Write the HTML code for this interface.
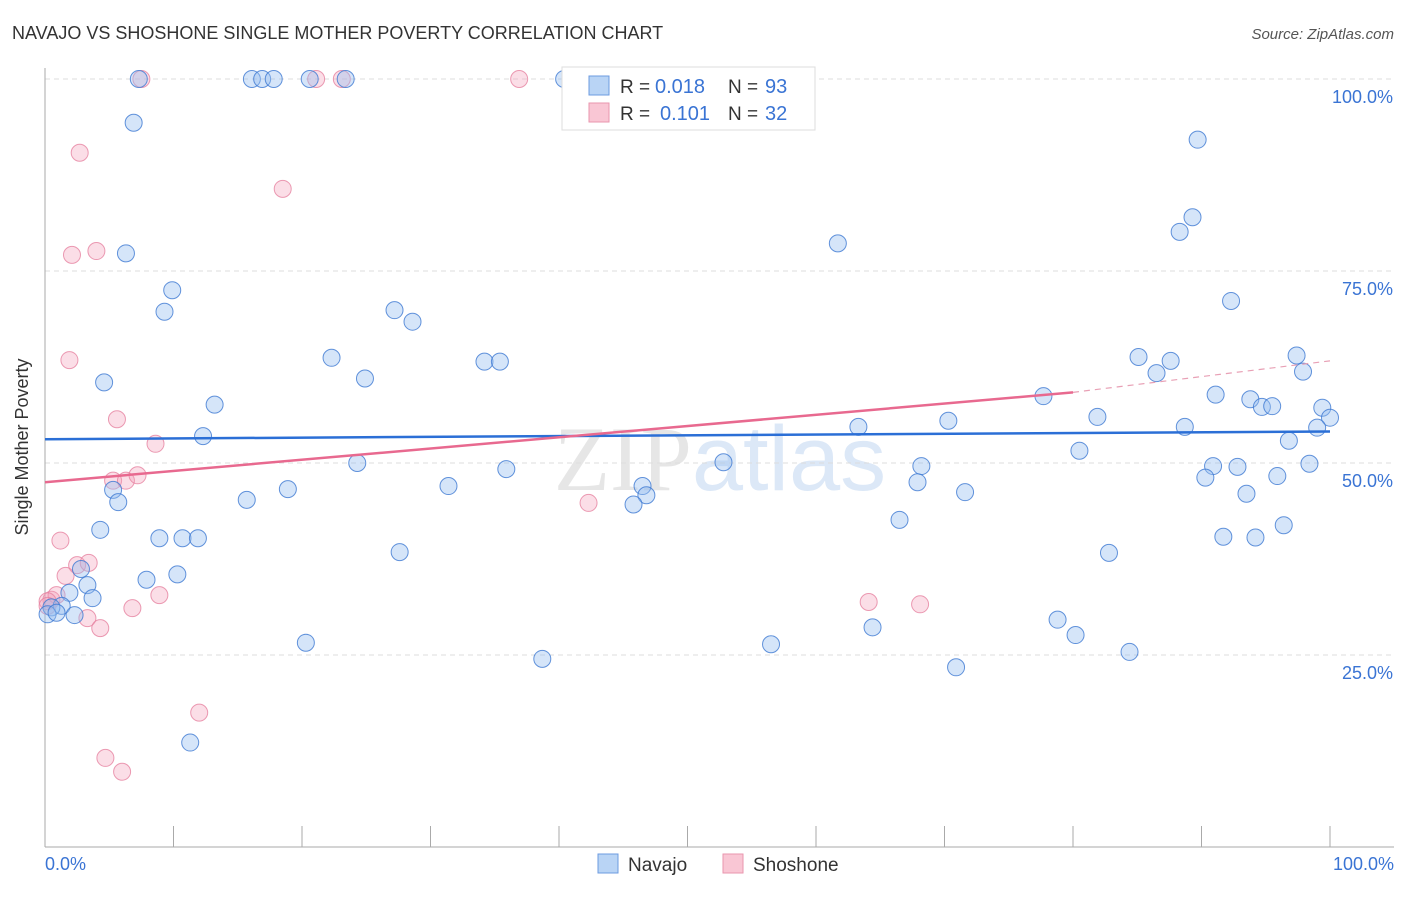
<!DOCTYPE html>
<html><head><meta charset="utf-8"><style>
body{margin:0;background:#fff;font-family:"Liberation Sans",sans-serif}
</style></head><body>
<svg width="1406" height="892">
<text x="12" y="39" font-size="18" fill="#333">NAVAJO VS SHOSHONE SINGLE MOTHER POVERTY CORRELATION CHART</text>
<text x="1394" y="39" font-size="15" fill="#555" text-anchor="end" font-style="italic">Source: ZipAtlas.com</text>
<text x="720" y="490" font-size="92" fill="#e6e6e6" text-anchor="middle" font-family="Liberation Serif">ZIP<tspan fill="#dce8f7" font-family="Liberation Sans">atlas</tspan></text>
<g id="grid"></g>
<line x1="45" y1="68" x2="45" y2="847" stroke="#aaa"/>
<line x1="45" y1="847" x2="1394" y2="847" stroke="#aaa"/>
<text x="36" y="455" font-size="18" fill="#333" text-anchor="middle" transform="rotate(-90 28 455)">Single Mother Poverty</text>
<text x="45" y="870" font-size="18" fill="#3a74d4">0.0%</text>
<text x="1394" y="870" font-size="18" fill="#3a74d4" text-anchor="end">100.0%</text>
<g id="pts"></g>
<g id="trend"></g>
<g>
<rect x="562" y="67" width="253" height="63" fill="#fff" stroke="#ddd"/>
<rect x="589" y="76" width="20" height="19" fill="#b9d4f5" stroke="#6c9be0"/>
<rect x="589" y="103" width="20" height="19" fill="#f9c6d4" stroke="#e996ae"/>
<text x="620" y="93" font-size="19" fill="#333">R =</text>
<text x="655" y="93" font-size="20" fill="#3a74d4">0.018</text>
<text x="728" y="93" font-size="19" fill="#333">N =</text>
<text x="765" y="93" font-size="20" fill="#3a74d4">93</text>
<text x="620" y="120" font-size="19" fill="#333">R =</text>
<text x="660" y="120" font-size="20" fill="#3a74d4">0.101</text>
<text x="728" y="120" font-size="19" fill="#333">N =</text>
<text x="765" y="120" font-size="20" fill="#3a74d4">32</text>
</g>
<g>
<rect x="598" y="854" width="20" height="19" fill="#b9d4f5" stroke="#6c9be0"/>
<text x="628" y="871" font-size="19" fill="#333">Navajo</text>
<rect x="723" y="854" width="20" height="19" fill="#f9c6d4" stroke="#e996ae"/>
<text x="753" y="871" font-size="19" fill="#333">Shoshone</text>
</g>
</svg>
<script>
const yTicks=[25,50,75,100];
const xTicks=[0,10,20,30,40,50,60,70,80,90,100];
const navX=[7.3,16.1,16.9,17.8,20.6,23.4,40.4,6.9,89.7,89.3,88.3,6.3,61.7,9.9,9.3,92.3,27.2,28.6,22.3,34.2,35.4,24.9,4.6,85.1,87.6,86.5,97.4,97.9,77.7,91.1,93.8,94.7,95.5,99.4,100,81.9,70.3,13.2,63.3,88.7,99,96.8,12.3,80.5,24.3,52.8,35.9,68.2,90.9,92.8,98.4,90.3,95.9,67.9,31.4,46.5,5.3,18.9,15.7,5.7,46.8,45.8,71.6,93.5,66.5,4.3,8.9,10.7,11.9,91.7,94.2,96.4,27.6,82.8,10.3,7.9,2.8,3.3,1.9,3.7,1.3,0.5,0.2,0.9,2.3,78.8,80.2,64.4,20.3,56.5,38.7,84.4,70.9,11.3];
const navY=[100,100,100,100,100,100,100,94.3,92.1,82,80.1,77.3,78.6,72.5,69.7,71.1,69.9,68.4,63.7,63.2,63.2,61,60.5,63.8,63.3,61.7,64,61.9,58.7,58.9,58.3,57.3,57.4,57.2,55.9,56,55.5,57.6,54.7,54.7,54.6,52.9,53.5,51.6,50,50.1,49.2,49.6,49.6,49.5,49.9,48.1,48.3,47.5,47,47,46.5,46.6,45.2,44.9,45.8,44.6,46.2,46,42.6,41.3,40.2,40.2,40.2,40.4,40.3,41.9,38.4,38.3,35.5,34.8,36.2,34.1,33.1,32.4,31.4,31.2,30.3,30.5,30.2,29.6,27.6,28.6,26.6,26.4,24.5,25.4,23.4,13.6];
const shoX=[7.5,21.1,23.1,36.9,2.7,18.5,2.1,4,1.9,5.6,8.6,5.3,6.3,7.2,42.3,1.2,2.5,3.4,1.6,0.5,0.9,0.2,3.3,4.3,6.8,8.9,64.1,68.1,12,4.7,6,0.2];
const shoY=[100,100,100,100,90.4,85.7,77.1,77.6,63.4,55.7,52.5,47.7,47.7,48.4,44.8,39.9,36.7,37,35.3,32.2,32.8,32,29.8,28.5,31.1,32.8,31.9,31.6,17.5,11.6,9.8,31.4];
const navTrend=[53.1,54.1];
const shoTrend=[47.5,59.2,63.3];
const X=v=>45+v*12.85, Y=v=>847-v*7.68;
const NS='http://www.w3.org/2000/svg';
function mk(t,a,p){const e=document.createElementNS(NS,t);for(const k in a)e.setAttribute(k,a[k]);p.appendChild(e);return e;}
const grid=document.getElementById('grid');
yTicks.forEach(t=>{
 const l=mk('line',{x1:45,x2:1394,y1:Y(t),y2:Y(t),stroke:'#ddd','stroke-dasharray':'5,4'},grid);
 
 
 const tx=mk('text',{x:1393,y:Y(t)+24,'font-size':18,fill:'#3a74d4','text-anchor':'end'},grid);
 tx.textContent=t.toFixed(1)+'%';
 
 
});
xTicks.forEach(t=>{
 const l=mk('line',{x1:X(t),x2:X(t),y1:826,y2:847,stroke:'#aaa'},grid);
 
 
});
const pts=document.getElementById('pts');
shoX.forEach((x,i)=>{
 const c=mk('circle',{cx:X(x),cy:Y(shoY[i]),r:8.5,fill:'rgba(244,160,185,0.35)',stroke:'rgba(230,130,160,0.8)','stroke-width':1},pts);
 
 
});
navX.forEach((x,i)=>{
 const c=mk('circle',{cx:X(x),cy:Y(navY[i]),r:8.5,fill:'rgba(150,190,240,0.4)',stroke:'rgba(60,120,210,0.8)','stroke-width':1},pts);
 
 
});
const tr=document.getElementById('trend');
const nl=mk('line',{x1:X(0),y1:Y(navTrend[0]),x2:X(100),y2:Y(navTrend[1]),stroke:'#2b6fd6','stroke-width':2.5},tr);


const sl=mk('line',{x1:X(0),y1:Y(shoTrend[0]),x2:X(80),y2:Y(shoTrend[1]),stroke:'#e8698f','stroke-width':2.5},tr);


const sd=mk('line',{x1:X(80),y1:Y(shoTrend[1]),x2:X(100),y2:Y(shoTrend[2]),stroke:'#e8a0b5','stroke-width':1.2,'stroke-dasharray':'6,5'},tr);


</script>
</body></html>
